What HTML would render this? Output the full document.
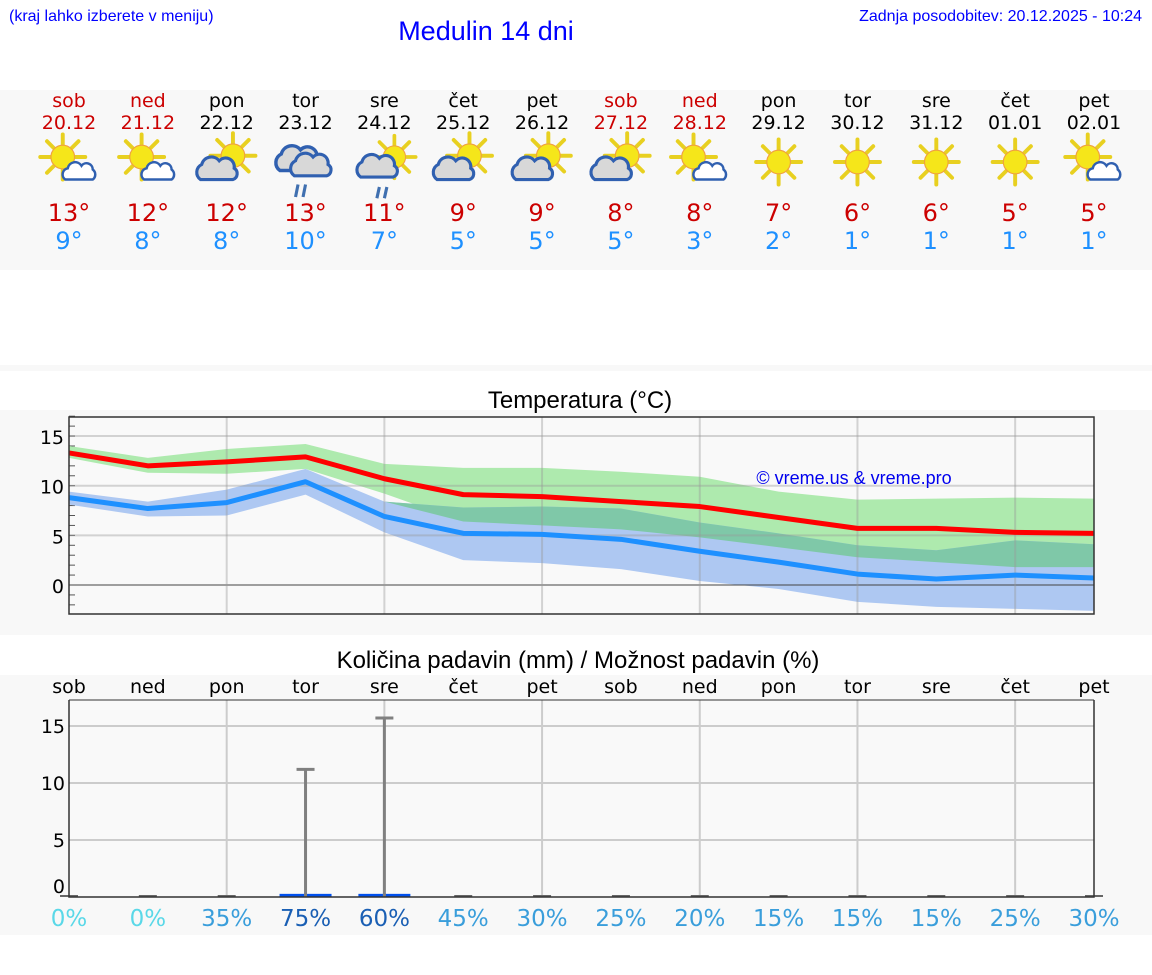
<!DOCTYPE html>
<html><head><meta charset="utf-8"><style>
html,body{margin:0;padding:0;background:#fff;width:1152px;height:975px;overflow:hidden}
svg{display:block}
text{font-family:"DejaVu Sans","Liberation Sans",sans-serif}
.ar{font-family:"Liberation Sans",Arial,sans-serif}
</style></head><body>
<svg id="root" width="1152" height="975" xmlns="http://www.w3.org/2000/svg">
<defs>
<g id="sun"><g stroke="#e8d020" stroke-width="3.5" stroke-linecap="round">
<line x1="0" y1="-11" x2="0" y2="-20"/><line x1="0" y1="11" x2="0" y2="20"/><line x1="-11" y1="0" x2="-20" y2="0"/><line x1="11" y1="0" x2="20" y2="0"/>
<line x1="8" y1="8" x2="14" y2="14"/><line x1="-8" y1="-8" x2="-14" y2="-14"/><line x1="8" y1="-8" x2="14" y2="-14"/><line x1="-8" y1="8" x2="-14" y2="14"/></g>
<circle r="10.5" fill="#f5e61a" stroke="#f0a040" stroke-width="1"/></g>
<g id="cloudS"><path d="M-12,6 a5,5 0 0 1 2,-9 a6,6 0 0 1 11,-2 a5,5 0 0 1 9,3 a5,5 0 0 1 0,8 z" fill="#fff" stroke="#3060b0" stroke-width="2"/></g>
<g id="cloudG"><path d="M-15,8 a7,7 0 0 1 1,-12 a8,8 0 0 1 14,-3 a7,7 0 0 1 12,6 a5,5 0 0 1 -1,9 z" fill="#d8d8d8" stroke="#3060b0" stroke-width="2.5"/></g>
</defs>
<rect x="0" y="90" width="1152" height="180" fill="#f8f8f8"/>
<rect x="0" y="365" width="1152" height="6" fill="#f8f8f8"/>
<rect x="0" y="410" width="1152" height="225" fill="#f8f8f8"/>
<rect x="0" y="675" width="1152" height="260" fill="#f8f8f8"/>
<text class="ar" x="9" y="21" font-size="16" fill="#0000ff">(kraj lahko izberete v meniju)</text>
<text class="ar" x="486" y="40" font-size="27" fill="#0000ff" text-anchor="middle">Medulin 14 dni</text>
<text class="ar" x="1142" y="21" font-size="16" fill="#0000ff" text-anchor="end">Zadnja posodobitev: 20.12.2025 - 10:24</text>
<text class="ar" x="580" y="408" font-size="24" fill="#000" text-anchor="middle">Temperatura (°C)</text>
<text class="ar" x="578" y="668" font-size="24" fill="#000" text-anchor="middle">Količina padavin (mm) / Možnost padavin (%)</text>
<g id="days"></g>
<g id="tchart"></g>
<g id="pchart"></g>
</svg>
<script>
const days=["sob","ned","pon","tor","sre","čet","pet","sob","ned","pon","tor","sre","čet","pet"];
const dates=["20.12","21.12","22.12","23.12","24.12","25.12","26.12","27.12","28.12","29.12","30.12","31.12","01.01","02.01"];
const weekend=[1,1,0,0,0,0,0,1,1,0,0,0,0,0];
const icons=[0,0,1,2,3,1,1,1,0,4,4,4,4,0];
const tmax=[13,12,12,13,11,9,9,8,8,7,6,6,5,5];
const tmin=[9,8,8,10,7,5,5,5,3,2,1,1,1,1];
const maxLine=[13.3,12.0,12.4,12.9,10.7,9.1,8.9,8.4,7.9,6.8,5.7,5.7,5.3,5.2];
const minLine=[8.8,7.7,8.3,10.4,6.9,5.2,5.1,4.6,3.4,2.3,1.1,0.6,1.0,0.7];
const greenUp=[14.0,12.8,13.7,14.2,12.2,11.8,11.8,11.4,10.9,9.4,8.6,8.7,8.8,8.7];
const greenLow=[12.8,11.3,11.2,11.7,9.2,6.4,6.0,5.6,4.8,3.8,2.8,2.3,1.8,1.8];
const blueUp=[9.4,8.4,9.6,11.7,8.4,7.8,7.9,7.7,6.3,5.2,4.0,3.5,4.5,4.1];
const blueLow=[8.1,6.9,7.0,9.1,5.3,2.5,2.2,1.6,0.4,-0.4,-1.7,-2.2,-2.4,-2.6];
const tTicks=[0,5,10,15];
const precip=[0,0,0,0.1,0.1,0,0,0,0,0,0,0,0,0];
const precipMax=[0,0,0,11.2,15.7,0,0,0,0,0,0,0,0,0];
const chance=[0,0,35,75,60,45,30,25,20,15,15,15,25,30];
const pTicks=[0,5,10,15];

const NS="http://www.w3.org/2000/svg";
function mk(p,tag,a,txt){const e=document.createElementNS(NS,tag);for(const k in a)e.setAttribute(k,a[k]);if(txt!==undefined)e.textContent=txt;p.appendChild(e);return e;}
const X0=69,X1=1094;
const xs=i=>X0+i*(X1-X0)/13;
const ty=v=>585-v*9.93;
const py=v=>897-v*11.4;

const D=document.getElementById('days');
days.forEach((d,i)=>{const x=xs(i);const c=weekend[i]?'#cc0000':'#000';
 let t=mk(D,'text',{x:x,y:107,'font-size':19,fill:c,'text-anchor':'middle'},d);
 
 t=mk(D,'text',{x:x,y:129,'font-size':19,fill:c,'text-anchor':'middle'},dates[i]);
 
 const g=mk(D,'g',{transform:`translate(${x},162) scale(1.25)`});
 
 const ic=icons[i];
 if(ic==0){mk(g,'use',{href:'#sun',transform:'translate(-5,-4) scale(0.9)'});mk(g,'use',{href:'#cloudS',transform:'translate(9,8)'});}
 else if(ic==1){mk(g,'use',{href:'#sun',transform:'translate(5,-5) scale(0.9)'});mk(g,'use',{href:'#cloudG',transform:'translate(-6,6)'});}
 else if(ic==2){mk(g,'use',{href:'#cloudG',transform:'translate(-4,-2) scale(1.1)'});mk(g,'use',{href:'#cloudG',transform:'translate(6,3) scale(1.0)'});
   mk(g,'path',{d:'M-6,18 l-2,10 M0,18 l-2,10',stroke:'#4070b0','stroke-width':2.5});}
 else if(ic==3){mk(g,'use',{href:'#sun',transform:'translate(8,-4) scale(0.85)'});mk(g,'use',{href:'#cloudG',transform:'translate(-4,4)'});
   mk(g,'path',{d:'M-4,20 l-2,9 M2,20 l-2,9',stroke:'#4070b0','stroke-width':2.5});}
 else {mk(g,'use',{href:'#sun',transform:'scale(0.9)'});}
 t=mk(D,'text',{x:x,y:221,'font-size':24,fill:'#cc0000','text-anchor':'middle'},tmax[i]+'°');
 
 t=mk(D,'text',{x:x,y:249,'font-size':24,fill:'#1e90ff','text-anchor':'middle'},tmin[i]+'°');
 
});

const T=document.getElementById('tchart');
mk(T,'rect',{x:X0,y:417,width:X1-X0,height:197,fill:'#f9f9f9'});
for(let v=-2;v<=17;v++){mk(T,'line',{x1:X0,x2:X0+6,y1:ty(v),y2:ty(v),stroke:'#555','stroke-width':1});}
tTicks.forEach(v=>{
 const t=mk(T,'text',{x:X0-5,y:ty(v)+8,'font-size':19,fill:'#000','text-anchor':'end'},String(v));
 });
function band(up,lo,fill,name){let d='M'+up.map((v,i)=>xs(i)+','+ty(v)).join(' L')+' L'+lo.map((v,i)=>xs(i)+','+ty(v)).reverse().join(' L')+'Z';
 const p=mk(T,'path',{d:d,fill:fill});}
band(greenUp,greenLow,'#aeeaae','max-temp-range');
band(blueUp,blueLow,'#aec8f2','min-temp-range');
const ovUp=greenUp.map((v,i)=>Math.min(v,blueUp[i]));
const ovLow=greenLow.map((v,i)=>Math.min(Math.max(v,blueLow[i]),Math.min(v,blueUp[i])));
band(ovUp,ovLow,'#7fc8a8','range-overlap');
tTicks.forEach(v=>{mk(T,'line',{x1:X0,x2:X1,y1:ty(v),y2:ty(v),stroke:v==0?'#444':'#999','stroke-opacity':v==0?1:0.4,'stroke-width':v==0?1:2});});
for(let i=2;i<13;i+=2)mk(T,'line',{x1:xs(i),x2:xs(i),y1:417,y2:614,stroke:'#999','stroke-opacity':0.4,'stroke-width':2});
function line(a,c,name){const p=mk(T,'polyline',{points:a.map((v,i)=>xs(i)+','+ty(v)).join(' '),fill:'none',stroke:c,'stroke-width':5,'stroke-linejoin':'round'});
 }
line(maxLine,'#ff0000','max-temp-line');line(minLine,'#1e90ff','min-temp-line');
mk(T,'rect',{x:X0,y:417,width:X1-X0,height:197,fill:'none',stroke:'#333','stroke-width':1.5});
let w=mk(T,'text',{x:854,y:484,'font-size':18,fill:'#0000ee','text-anchor':'middle',class:'ar'},'© vreme.us & vreme.pro');


const P=document.getElementById('pchart');
days.forEach((d,i)=>{const t=mk(P,'text',{x:xs(i),y:693,'font-size':19,fill:'#000','text-anchor':'middle'},d);
 });
mk(P,'rect',{x:X0,y:700,width:X1-X0,height:197,fill:'#f9f9f9'});
pTicks.forEach(v=>{if(v>0)mk(P,'line',{x1:X0,x2:X1,y1:py(v),y2:py(v),stroke:'#ccc','stroke-width':2});
 const t=mk(P,'text',{x:X0-4,y:(v==0?py(v)-4:py(v)+7),'font-size':19,fill:'#000','text-anchor':'end'},String(v));
 });
for(let i=2;i<13;i+=2)mk(P,'line',{x1:xs(i),x2:xs(i),y1:700,y2:897,stroke:'#ccc','stroke-width':2});
precip.forEach((v,i)=>{const x=xs(i);
 if(v>0){const r=mk(P,'rect',{x:x-26,y:py(v)-2,width:52,height:2+v*11.4,fill:'#0050ee'});}
 else{const r=mk(P,'rect',{x:x-9,y:895,width:18,height:2,fill:'#666'});}
 if(precipMax[i]>0){const e=mk(P,'path',{d:`M${x},${py(precipMax[i])} V897 M${x-9},${py(precipMax[i])} H${x+9}`,stroke:'#808080','stroke-width':3,fill:'none'});
  }
 const c=chance[i]==0?'#5ad8e8':(chance[i]>=60?'#1a5fb4':'#3a9edb');
 const t=mk(P,'text',{x:x,y:926,'font-size':23,fill:c,'text-anchor':'middle'},chance[i]+'%');
 
});
mk(P,'path',{d:`M${X0},700 V897 H${X1} V700`,fill:'none',stroke:'#333','stroke-width':1.5});
mk(P,'line',{x1:X0,x2:X1,y1:700,y2:700,stroke:'#333','stroke-width':1});
</script>
</body></html>
